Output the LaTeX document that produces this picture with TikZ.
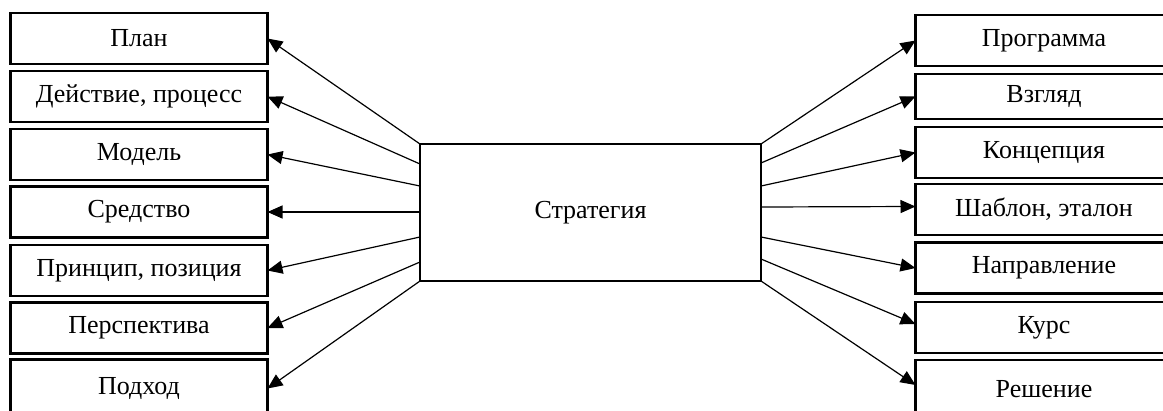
\documentclass[tikz,border=0pt]{standalone}
\usepackage{fontspec}
\setmainfont{Liberation Serif}
\usetikzlibrary{arrows.meta}
\begin{document}
\begin{tikzpicture}[x=1pt,y=-1pt,
  box/.style={draw,line width=2.8pt,minimum width=257pt,minimum height=51pt,inner sep=0pt,outer sep=0pt,font=\fontsize{26}{30}\selectfont},
  cbox/.style={draw,line width=2.8pt,minimum width=341pt,minimum height=137pt,inner sep=0pt,outer sep=0pt,font=\fontsize{26}{30}\selectfont},
  arr/.style={line width=1.2pt,-{Triangle[length=15pt,width=13pt]}}]
\useasboundingbox (0,0) rectangle (1163,410);
\clip (0,0) rectangle (1163,410);
% left boxes
\node[box] (l1) at (139,38.5) {План};
\node[box] (l2) at (139,96.5) {Действие, процесс};
\node[box] (l3) at (139,154.5) {Модель};
\node[box] (l4) at (139,212) {Средство};
\node[box] (l5) at (139,270.5) {Принцип, позиция};
\node[box] (l6) at (139,328) {Перспектива};
\node[box,minimum height=58pt] (l7) at (139,388.5) {Подход};
% right boxes
\node[box] (r1) at (1044,40.5) {Программа};
\node[box,minimum height=45pt] (r2) at (1044,96.5) {Взгляд};
\node[box] (r3) at (1044,152.5) {Концепция};
\node[box] (r4) at (1044,209.5) {Шаблон, эталон};
\node[box] (r5) at (1044,268) {Направление};
\node[box] (r6) at (1044,327.5) {Курс};
\node[box,minimum height=58pt] (r7) at (1044,389) {Решение};
% center
\node[cbox] (c) at (590.5,212.5) {Стратегия};
% start points
\coordinate (a1) at (420,144);
\coordinate (a2) at (420,164);
\coordinate (a3) at (420,186);
\coordinate (a4) at (420,212);
\coordinate (a5) at (420,237);
\coordinate (a6) at (420,262);
\coordinate (a7) at (420,281);
\coordinate (b1) at (761,144);
\coordinate (b2) at (761,163);
\coordinate (b3) at (761,186);
\coordinate (b4) at (761,207);
\coordinate (b5) at (761,237);
\coordinate (b6) at (761,259);
\coordinate (b7) at (761,281);
\draw[arr] (a1) -- (l1.east);
\draw[arr] (a2) -- (l2.east);
\draw[arr] (a3) -- (l3.east);
\draw[arr] (a4) -- (l4.east);
\draw[arr] (a5) -- (l5.east);
\draw[arr] (a6) -- (l6.east);
\draw[arr] (a7) -- (l7.east);
\draw[arr] (b1) -- (r1.west);
\draw[arr] (b2) -- (r2.west);
\draw[arr] (b3) -- (r3.west);
\draw[arr] (b4) -- ([yshift=3pt]r4.west);
\draw[arr] (b5) -- (r5.west);
\draw[arr] (b6) -- ([yshift=3.5pt]r6.west);
\draw[arr] (b7) -- ([yshift=4pt]r7.west);
\end{tikzpicture}
\end{document}
